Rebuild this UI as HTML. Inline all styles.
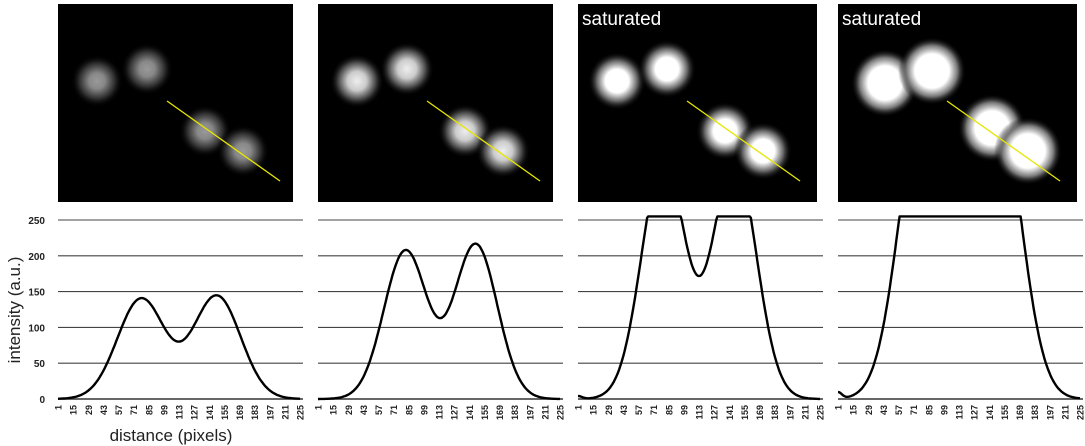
<!DOCTYPE html>
<html><head><meta charset="utf-8"><style>
html,body{margin:0;padding:0;background:#fff;width:1085px;height:446px;overflow:hidden}
svg{display:block}
text{font-family:"Liberation Sans",sans-serif}
</style></head><body>
<svg id="s" width="1085" height="446" xmlns="http://www.w3.org/2000/svg">
<defs>
<radialGradient id="g1"><stop offset="0" stop-color="#999"/><stop offset="0.3" stop-color="#888"/><stop offset="0.7" stop-color="#2a2a2a"/><stop offset="1" stop-color="#000" stop-opacity="0"/></radialGradient>
<radialGradient id="g2"><stop offset="0" stop-color="#eee"/><stop offset="0.35" stop-color="#ccc"/><stop offset="0.7" stop-color="#444"/><stop offset="1" stop-color="#000" stop-opacity="0"/></radialGradient>
<radialGradient id="g3"><stop offset="0" stop-color="#fff"/><stop offset="0.4" stop-color="#fff"/><stop offset="0.7" stop-color="#666"/><stop offset="1" stop-color="#000" stop-opacity="0"/></radialGradient>
<radialGradient id="g4"><stop offset="0" stop-color="#fff"/><stop offset="0.5" stop-color="#fff"/><stop offset="0.75" stop-color="#777"/><stop offset="1" stop-color="#000" stop-opacity="0"/></radialGradient>
</defs>
<text x="20" y="310" font-size="17" fill="#222" text-anchor="middle" transform="rotate(-90 20 310)">intensity (a.u.)</text>
<text x="171" y="441" font-size="17" fill="#222" text-anchor="middle">distance (pixels)</text>
</svg>
<script>
var s=document.getElementById('s'),NS='http://www.w3.org/2000/svg';
function el(t,a,txt){var e=document.createElementNS(NS,t);for(var k in a)e.setAttribute(k,a[k]);if(txt!=null)e.textContent=txt;s.appendChild(e);return e;}
var cfg=[
 {g:'g1',r:26,A1:140,A2:144,c1:78,c2:148,sg:22,sat:false},
 {g:'g2',r:27,A1:207,A2:216,c1:82,c2:147,sg:20,sat:false},
 {g:'g3',r:29,A1:335,A2:335,c1:80,c2:146,sg:20,sat:true},
 {g:'g4',r:34,A1:422,A2:422,c1:80,c2:148,sg:22,sat:true}
];
var blobs=[[39,77],[89,65],[147,127],[185,147]];
var blobs4=[[47,79],[94,67],[154,124],[190,147]];
var labs=[1,15,29,43,57,71,85,99,113,127,141,155,169,183,197,211,225];
for(var p=0;p<4;p++){
 var c=cfg[p],ox=260*p;
 var ix=58+ox,iy=4,iw=(p<2?235:239),ih=198;
 el('rect',{x:ix,y:iy,width:iw,height:ih,fill:'#000'});
 var bl=p==3?blobs4:blobs;
 for(var b=0;b<4;b++)el('circle',{cx:ix+bl[b][0],cy:iy+bl[b][1],r:c.r,fill:'url(#'+c.g+')'});
 el('line',{x1:ix+109,y1:iy+97,x2:ix+222,y2:iy+177,stroke:'#e6e600','stroke-width':1.3});
 if(c.sat)el('text',{x:ix+4,y:iy+21,'font-size':19,fill:'#fff'},'saturated');
 var x0=58+ox,x1=303+ox;
 for(var v=0;v<=250;v+=50){var y=399-v*0.716;
  el('line',{x1:x0,y1:y,x2:x1,y2:y,stroke:v==0?'#333':'#444','stroke-width':v==0?1.4:1.1});
  if(p==0)el('text',{x:45,y:y+4,'font-size':10,'font-weight':'bold',fill:'#222','text-anchor':'end'},v);}
 for(var i=0;i<labs.length;i++){var lx=x0+(labs[i]-1)/224*242+3.5;
  el('text',{x:0,y:0,'font-size':9,'font-weight':'bold',fill:'#222','text-anchor':'end',transform:'translate('+lx+',405) rotate(-90)'},labs[i]);}
 var d='';
 for(var t=1;t<=225;t++){
  var val=c.A1*Math.exp(-(t-c.c1)*(t-c.c1)/(2*c.sg*c.sg))+c.A2*Math.exp(-(t-c.c2)*(t-c.c2)/(2*c.sg*c.sg));
  if(p==2)val+=4*Math.exp(-(t-1)*(t-1)/30);
  if(p==3){val+=9*Math.exp(-(t-1)*(t-1)/25);}
  val=Math.min(val,255);
  var X=x0+(t-1)/224*242,Y=399-val*0.716;
  d+=(t==1?'M':'L')+X.toFixed(1)+' '+Y.toFixed(1);}
 el('path',{d:d,fill:'none',stroke:'#000','stroke-width':2.4,'stroke-linejoin':'round'});
}
</script>
</body></html>
